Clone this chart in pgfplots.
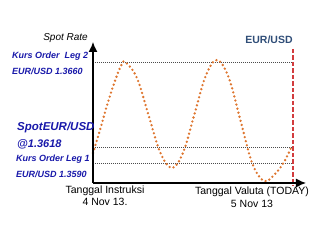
\documentclass[border=0pt]{standalone}
\usepackage{pgfplots}
\pgfplotsset{compat=1.18}
\usepackage{fontspec}
\setmainfont{Liberation Sans}
\usetikzlibrary{arrows.meta}
\definecolor{curveor}{RGB}{222,118,48}
\definecolor{lblblue}{RGB}{25,25,170}
\definecolor{ttlblue}{RGB}{48,78,120}
\definecolor{redd}{RGB}{210,60,62}
\begin{document}
\begin{tikzpicture}
\begin{axis}[
  scale only axis, width=325pt, height=243pt,
  xmin=0, xmax=325, ymin=0, ymax=243, y dir=reverse,
  hide axis, clip=false,
]
\path (axis cs:0,0) rectangle (axis cs:325,243);
% reference dotted levels
\addplot[gray!60!black, line width=0.8pt, dash pattern=on 0.7pt off 1.3pt] coordinates {(93,62) (293,62)};
\addplot[gray!60!black, line width=0.8pt, dash pattern=on 0.7pt off 1.3pt] coordinates {(93,147) (293,147)};
\addplot[gray!60!black, line width=0.8pt, dash pattern=on 0.7pt off 1.3pt] coordinates {(93,163) (293,163)};
% rate curve
\addplot[curveor, line width=2.6pt, line cap=round, dash pattern=on 0pt off 4.2pt, smooth, tension=0.6] coordinates {
 (93,153) (100,130) (108,102) (116,78) (121,66) (125,62)
 (136.75,77.5) (148.5,115) (160.25,152.5) (172,168)
 (183.25,152.2) (194.5,114) (205.75,75.8) (217,60)
 (228.75,77.7) (240.5,120.5) (252.25,163.3) (264,181)
 (275,174) (284,162) (291,148)};
% value date line
\addplot[redd, line width=1.6pt, dash pattern=on 4.5pt off 2pt] coordinates {(293,49) (293,186)};
% axes
\addplot[black, line width=1.3pt, -{Latex[length=10pt,width=9pt]}] coordinates {(93,183) (93,42)};
\addplot[black, line width=1.3pt, -{Latex[length=10pt,width=9pt]}] coordinates {(93,183) (306,183)};
% labels
\node[anchor=east, font=\fontsize{10}{12}\selectfont\itshape, inner sep=0pt] at (axis cs:88,38) {Spot Rate};
\node[anchor=west, font=\fontsize{9}{11}\selectfont\bfseries\itshape, text=lblblue, inner sep=0pt] at (axis cs:12,56) {Kurs Order\ \ Leg 2};
\node[anchor=west, font=\fontsize{9}{11}\selectfont\bfseries\itshape, text=lblblue, inner sep=0pt] at (axis cs:12,71) {EUR/USD 1.3660};
\node[anchor=west, font=\fontsize{11.5}{13}\selectfont\bfseries\itshape, text=lblblue, inner sep=0pt] at (axis cs:17,128) {SpotEUR/USD};
\node[anchor=west, font=\fontsize{11}{13}\selectfont\bfseries\itshape, text=lblblue, inner sep=0pt] at (axis cs:17,144) {@1.3618};
\node[anchor=west, font=\fontsize{9}{11}\selectfont\bfseries\itshape, text=lblblue, inner sep=0pt] at (axis cs:16,159) {Kurs Order Leg 1};
\node[anchor=west, font=\fontsize{9}{11}\selectfont\bfseries\itshape, text=lblblue, inner sep=0pt] at (axis cs:16,174) {EUR/USD 1.3590};
\node[font=\fontsize{10.5}{12}\selectfont, inner sep=0pt] at (axis cs:105,191) {Tanggal Instruksi};
\node[font=\fontsize{10.5}{12}\selectfont, inner sep=0pt] at (axis cs:105,202) {4 Nov 13.};
\node[font=\fontsize{10.5}{12}\selectfont, inner sep=0pt] at (axis cs:252,192) {Tanggal Valuta (TODAY)};
\node[font=\fontsize{10.5}{12}\selectfont, inner sep=0pt] at (axis cs:252,204) {5 Nov 13};
\node[font=\fontsize{10.5}{12}\selectfont\bfseries, text=ttlblue, inner sep=0pt] at (axis cs:269,40) {EUR/USD};
\end{axis}
\end{tikzpicture}
\end{document}
